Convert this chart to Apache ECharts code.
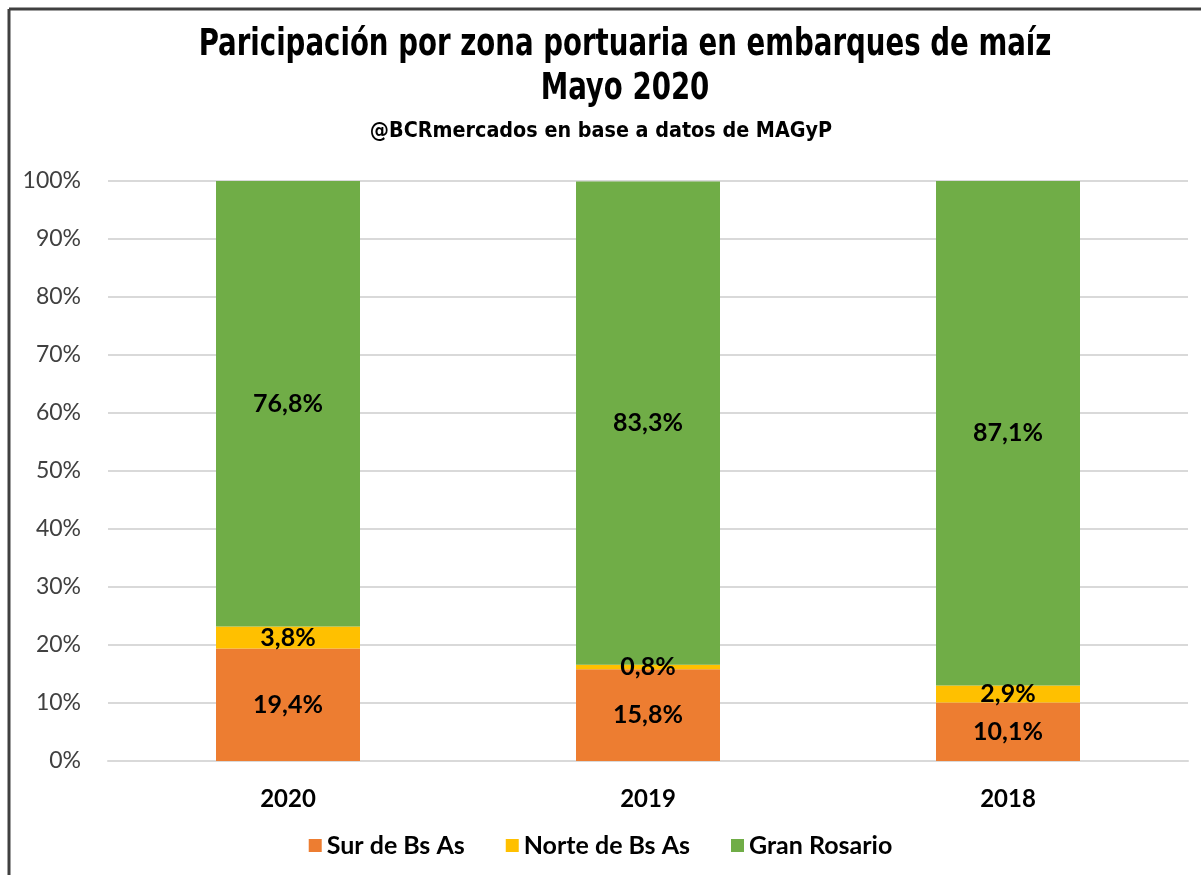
<!DOCTYPE html>
<html>
<head>
<meta charset="utf-8">
<script src="https://cdn.jsdelivr.net/npm/echarts@6/dist/echarts.min.js"></script>
<style>
  html, body { margin: 0; padding: 0; background: #fff; }
  #chartDiv { width: 1201px; height: 875px; }
</style>
</head>
<body>
<div id="chartDiv"></div>
<script>
var years = ['2020', '2019', '2018'];
var surBsAs = [19.4, 15.8, 10.1];
var norteBsAs = [3.8, 0.8, 2.9];
var granRosario = [76.8, 83.3, 87.1];
var yTicks = [0, 10, 20, 30, 40, 50, 60, 70, 80, 90, 100];

var labelFont = 'Lato, "Open Sans", sans-serif';
var titleFont = '"DejaVu Sans Condensed", "DejaVu Sans", sans-serif';

function pct(v) {
    return v.toFixed(1).replace('.', ',') + '%';
}

function makeSeries(name, data, color) {
    return {
        name: name,
        type: 'bar',
        stack: 'total',
        barWidth: '40%',
        itemStyle: { color: color },
        label: {
            show: true,
            position: 'inside',
            color: '#000',
            fontFamily: labelFont,
            fontWeight: 'bold',
            fontSize: 25,
            formatter: function (p) { return pct(p.value); }
        },
        data: data
    };
}

// titulo condensado (no hay fuente narrow instalada)
function titleText(txt, x, y, size, sx) {
    return {
        type: 'text',
        x: x,
        y: y,
        scaleX: sx,
        style: {
            text: txt,
            textAlign: 'center',
            textVerticalAlign: 'middle',
            fontFamily: titleFont,
            fontWeight: 'bold',
            fontSize: size,
            fill: '#000'
        }
    };
}

var countChart = echarts.init(document.getElementById('chartDiv'));

var countOption = {
    animation: false,
    graphic: [
        { type: 'line', shape: { x1: 9, y1: 9, x2: 1201, y2: 9 }, style: { stroke: '#404040', lineWidth: 3 } },
        { type: 'line', shape: { x1: 9, y1: 9, x2: 9, y2: 875 }, style: { stroke: '#404040', lineWidth: 3 } },
        titleText('Paricipación por zona portuaria en embarques de maíz', 625, 45, 37, 0.83),
        titleText('Mayo 2020', 625, 89, 37, 0.83),
        titleText('@BCRmercados en base a datos de MAGyP', 601, 131, 22, 0.97)
    ],
    legend: {
        bottom: 12,
        left: 'center',
        itemWidth: 13,
        itemHeight: 13,
        itemGap: 41,
        icon: 'rect',
        textStyle: {
            fontFamily: labelFont,
            fontWeight: 'bold',
            fontSize: 25,
            color: '#000'
        },
        data: ['Sur de Bs As', 'Norte de Bs As', 'Gran Rosario']
    },
    grid: { left: 108, right: 13, top: 181, bottom: 114, containLabel: false },
    xAxis: {
        type: 'category',
        data: years,
        axisLine: { lineStyle: { color: '#d9d9d9', width: 2 } },
        axisTick: { show: false },
        axisLabel: {
            margin: 26,
            color: '#000',
            fontFamily: labelFont,
            fontWeight: 'bold',
            fontSize: 24
        }
    },
    yAxis: {
        type: 'value',
        min: yTicks[0],
        max: yTicks[yTicks.length - 1],
        interval: 10,
        axisLine: { show: false },
        axisTick: { show: false },
        splitLine: { lineStyle: { color: '#d9d9d9', width: 2 } },
        axisLabel: {
            margin: 27,
            color: '#404040',
            fontFamily: labelFont,
            fontSize: 23,
            formatter: '{value}%'
        }
    },
    series: [
        makeSeries('Sur de Bs As', surBsAs, '#ED7D31'),
        makeSeries('Norte de Bs As', norteBsAs, '#FFC000'),
        makeSeries('Gran Rosario', granRosario, '#70AD47')
    ]
};

countChart.setOption(countOption);
</script>
</body>
</html>
